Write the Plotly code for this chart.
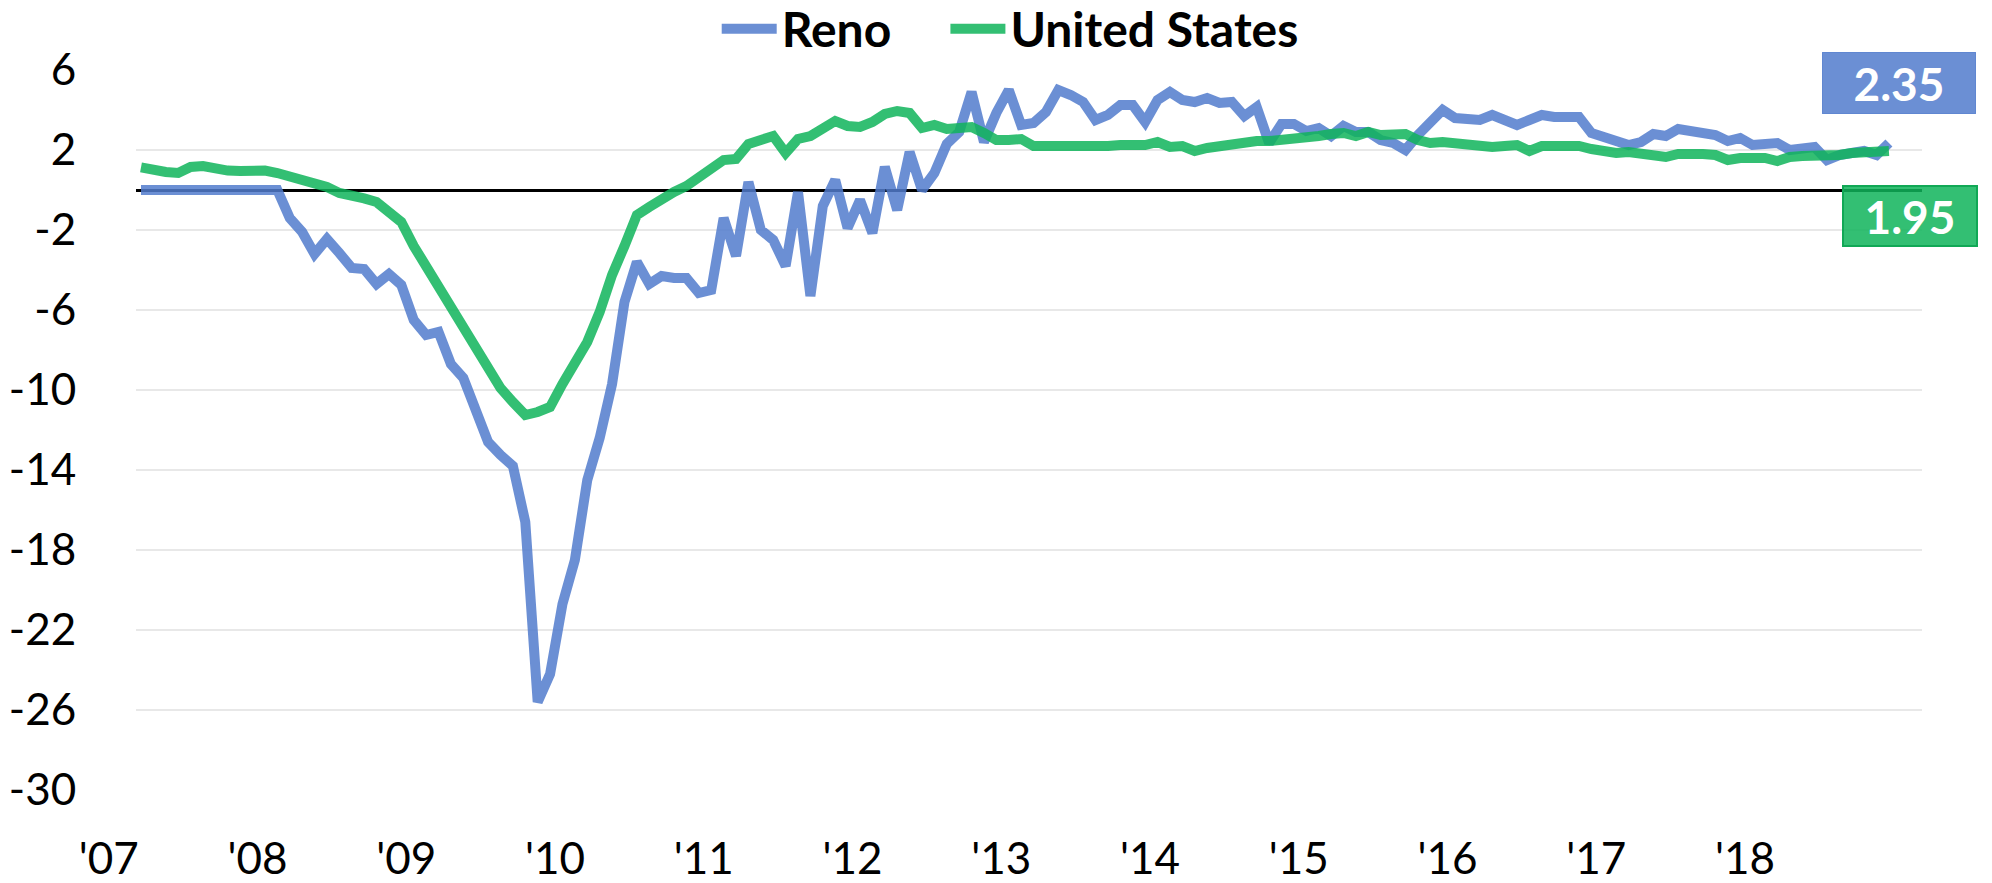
import pandas as pd
import plotly.graph_objects as go

# Monthly year-over-year change (%), March 2007 through December 2018
months = pd.date_range("2007-03-01", "2018-12-01", freq="MS")

reno = [
    # 2007 (Mar-Dec)
    0, 0, 0, 0, 0, 0, 0, 0, 0, 0,
    # 2008
    0, 0, -1.4, -2.1, -3.2, -2.45, -3.15, -3.9, -3.95, -4.7, -4.2, -4.75,
    # 2009
    -6.5, -7.25, -7.1, -8.7, -9.4, -11.0, -12.6, -13.25, -13.8, -16.6, -25.6, -24.2,
    # 2010
    -20.7, -18.5, -14.5, -12.4, -9.7, -5.6, -3.6, -4.7, -4.3, -4.4, -4.4, -5.15,
    # 2011
    -5.0, -1.4, -3.3, 0.4, -2.0, -2.5, -3.8, -0.1, -5.3, -0.8, 0.5, -1.9,
    # 2012
    -0.5, -2.15, 1.15, -1.0, 1.9, 0.0, 0.85, 2.3, 2.9, 4.9, 2.4, 3.85,
    # 2013
    5.0, 3.25, 3.35, 3.9, 5.0, 4.75, 4.4, 3.5, 3.75, 4.25, 4.25, 3.4,
    # 2014
    4.5, 4.9, 4.5, 4.4, 4.6, 4.35, 4.4, 3.7, 4.15, 2.35, 3.3, 3.3,
    # 2015
    2.95, 3.1, 2.7, 3.2, 2.9, 2.9, 2.5, 2.35, 2.0, 2.75, 3.35, 4.0,
    # 2016
    3.6, 3.55, 3.5, 3.75, 3.55, 3.25, 3.5, 3.75, 3.65, 3.6, 3.65, 2.85,
    # 2017
    2.7, 2.45, 2.25, 2.4, 2.8, 2.7, 3.05, 2.95, 2.85, 2.75, 2.45, 2.6,
    # 2018
    2.25, 2.3, 2.35, 2.0, 2.1, 2.15, 1.5, 1.75, 1.85, 1.95, 1.75, 2.35,
]

united_states = [
    # 2007 (Mar-Dec)
    1.13, 0.95, 0.9, 0.85, 1.15, 1.2, 1.03, 0.97, 0.95, 1.0,
    # 2008
    0.97, 0.85, 0.68, 0.55, 0.35, 0.15, -0.15, -0.35, -0.42, -0.6, -1.05, -1.6,
    # 2009
    -2.8, -3.8, -4.85, -5.85, -7.0, -7.9, -8.85, -9.9, -10.6, -11.25, -11.1, -10.85,
    # 2010
    -9.7, -8.75, -7.6, -6.1, -4.25, -2.8, -1.25, -0.85, -0.45, -0.1, 0.2, 0.6,
    # 2011
    1.05, 1.5, 1.55, 2.3, 2.5, 2.7, 1.85, 2.55, 2.7, 3.05, 3.45, 3.2,
    # 2012
    3.15, 3.4, 3.8, 3.95, 3.85, 3.1, 3.25, 3.05, 3.05, 3.15, 2.85, 2.5,
    # 2013
    2.5, 2.55, 2.2, 2.2, 2.1, 2.15, 2.2, 2.2, 2.2, 2.25, 2.25, 2.25,
    # 2014
    2.4, 2.15, 2.2, 1.95, 2.1, 2.2, 2.25, 2.35, 2.45, 2.45, 2.5, 2.6,
    # 2015
    2.55, 2.7, 2.8, 2.85, 2.7, 2.9, 2.75, 2.8, 2.8, 2.5, 2.35, 2.4,
    # 2016
    2.35, 2.3, 2.15, 2.15, 2.2, 2.25, 1.95, 2.2, 2.2, 2.2, 2.2, 2.05,
    # 2017
    1.95, 1.85, 1.9, 1.85, 1.75, 1.65, 1.8, 1.85, 1.8, 1.75, 1.5, 1.6,
    # 2018
    1.65, 1.6, 1.45, 1.65, 1.7, 1.7, 1.65, 1.75, 1.85, 1.9, 1.85, 1.95,
]

year_ticks = list(range(2007, 2019))
year_labels = ["'07", "'08", "'09", "'10", "'11", "'12", "'13", "'14", "'15", "'16", "'17", "'18"]
y_ticks = list(range(-30, 7, 4))
y_labels = [str(v) for v in y_ticks]

# decimal-year position of each month
t = [d.year + (d.month - 1) / 12 for d in months]

BLUE = "rgba(81,123,204,0.85)"
GREEN = "rgba(15,180,90,0.85)"
FONT = "Lato"
LINE_W = 10

# page geometry (pixels)
W, H = 1992, 883
ML, MR, MT, MB = 80, 70, 70, 93
PLOT_W = W - ML - MR
AXIS_LEFT = 136          # left edge of the gridded area
JAN07_PX = 116.2         # horizontal pixel of January 2007
PX_PER_YEAR = 148.76
LABEL_OFFSET = -0.05     # year labels sit slightly before January


def px_to_year(px):
    return 2007 + (px - JAN07_PX) / PX_PER_YEAR


x_main_range = [px_to_year(AXIS_LEFT), px_to_year(W - MR)]
x_label_range = [px_to_year(ML), px_to_year(W - MR)]

fig = go.Figure()
fig.add_trace(go.Scatter(
    x=t, y=reno, mode="lines", name="<b>Reno</b>\u00a0\u00a0\u00a0\u00a0",
    line=dict(color=BLUE, width=LINE_W), hoverinfo="skip",
))
fig.add_trace(go.Scatter(
    x=t, y=united_states, mode="lines", name="<b>United States</b>",
    line=dict(color=GREEN, width=LINE_W), hoverinfo="skip",
))
# carrier for the year labels axis
fig.add_trace(go.Scatter(
    x=[y + LABEL_OFFSET for y in year_ticks], y=[None] * len(year_ticks),
    xaxis="x2", yaxis="y2", mode="lines", showlegend=False, hoverinfo="skip",
))

fig.update_layout(
    width=W, height=H,
    margin=dict(l=ML, r=MR, t=MT, b=MB, autoexpand=False),
    paper_bgcolor="white", plot_bgcolor="rgba(0,0,0,0)",
    font=dict(family=FONT, size=44, color="black"),
    showlegend=True,
    legend=dict(
        orientation="h", x=0.505, xanchor="center",
        y=1 + (MT - 29) / (H - MT - MB), yanchor="middle",
        font=dict(family=FONT, size=48, color="black"),
        itemwidth=55, bgcolor="rgba(0,0,0,0)",
    ),
    xaxis=dict(
        domain=[(AXIS_LEFT - ML) / PLOT_W, 1], range=x_main_range,
        showgrid=False, zeroline=False, showline=False, showticklabels=False,
        ticks="", fixedrange=True,
    ),
    yaxis=dict(
        range=[-30, 6], tickvals=y_ticks, ticktext=y_labels,
        showgrid=True, gridcolor="#e8e8e8", gridwidth=2,
        zeroline=True, zerolinecolor="black", zerolinewidth=3,
        showline=False, ticks="outside", ticklen=50, tickcolor="rgba(0,0,0,0)",
        tickfont=dict(family=FONT, size=44, color="black"),
        automargin=False, fixedrange=True,
    ),
    xaxis2=dict(
        domain=[0, 1], range=x_label_range, anchor="y2",
        tickvals=[y + LABEL_OFFSET for y in year_ticks], ticktext=year_labels,
        showgrid=False, zeroline=False, showline=False,
        ticks="outside", ticklen=30, tickcolor="rgba(0,0,0,0)",
        tickfont=dict(family=FONT, size=44, color="black"),
        automargin=False, fixedrange=True,
    ),
    yaxis2=dict(
        range=[-30, 6], anchor="x2", showgrid=False, zeroline=False,
        showline=False, showticklabels=False, ticks="", fixedrange=True,
    ),
)

# end-of-series value boxes
last_t = t[-1]
fig.add_annotation(
    x=last_t, y=reno[-1], xref="x", yref="y",
    text=f"<b>{reno[-1]:.2f}</b>", showarrow=False,
    font=dict(family=FONT, size=46, color="white"),
    bgcolor=BLUE, bordercolor=BLUE, borderwidth=1, borderpad=2,
    width=148, height=56, xshift=10, yshift=60,
)
fig.add_annotation(
    x=last_t, y=united_states[-1], xref="x", yref="y",
    text=f"<b>{united_states[-1]:.2f}</b>", showarrow=False,
    font=dict(family=FONT, size=46, color="white"),
    bgcolor=GREEN, bordercolor="rgb(17,168,86)", borderwidth=2, borderpad=2,
    width=128, height=54, xshift=21, yshift=-65,
)

fig.write_html("out.html")
